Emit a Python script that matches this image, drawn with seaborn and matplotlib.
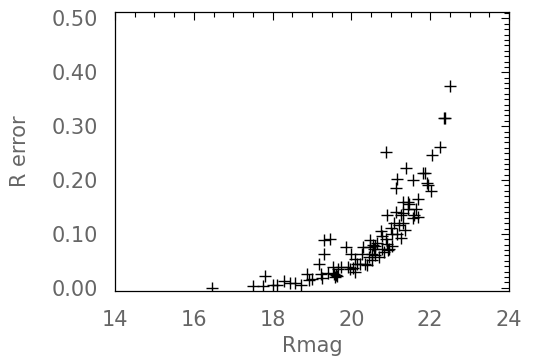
import matplotlib
matplotlib.use("Agg")
import matplotlib.pyplot as plt
import seaborn as sns
import pandas as pd
from matplotlib.ticker import MultipleLocator, FormatStrFormatter

rmag = [16.46, 17.49, 17.75, 17.80, 18.01, 18.12, 18.30, 18.45, 18.58, 18.71,
        18.88, 18.92, 19.01, 19.18, 19.22, 19.26, 19.30, 19.30, 19.46, 19.40,
        19.53, 19.57, 19.61, 19.66, 19.74, 19.87, 19.91, 19.96, 20.00, 20.04,
        20.09, 20.13, 20.22, 20.26, 20.30, 20.35, 20.39, 20.44, 20.48, 20.48,
        20.52, 20.52, 20.57, 20.61, 20.65, 20.70, 20.74, 20.78, 20.78, 20.83,
        20.87, 20.87, 20.91, 20.91, 20.96, 21.00, 21.04, 21.04, 21.08, 21.13,
        21.13, 21.17, 21.17, 21.22, 21.26, 21.26, 21.30, 21.30, 21.35, 21.39,
        21.43, 21.43, 21.47, 21.56, 21.56, 21.60, 21.65, 21.69, 21.69, 21.82,
        21.86, 21.91, 21.95, 22.01, 22.04, 22.24, 22.34, 22.38, 22.49,
        19.63, 19.58, 20.10, 20.61, 21.30, 20.93, 20.55]
rerr = [0.000, 0.004, 0.003, 0.022, 0.006, 0.006, 0.012, 0.009, 0.008, 0.006,
        0.026, 0.015, 0.016, 0.045, 0.026, 0.018, 0.089, 0.063, 0.090, 0.027,
        0.039, 0.026, 0.024, 0.034, 0.039, 0.075, 0.039, 0.034, 0.063, 0.036,
        0.054, 0.045, 0.045, 0.063, 0.075, 0.045, 0.042, 0.057, 0.089, 0.075,
        0.063, 0.051, 0.072, 0.078, 0.084, 0.057, 0.105, 0.096, 0.072, 0.066,
        0.253, 0.090, 0.135, 0.081, 0.072, 0.111, 0.099, 0.078, 0.120, 0.141,
        0.186, 0.202, 0.099, 0.117, 0.135, 0.093, 0.159, 0.120, 0.108, 0.222,
        0.159, 0.147, 0.156, 0.201, 0.129, 0.135, 0.147, 0.165, 0.132, 0.213,
        0.213, 0.195, 0.190, 0.180, 0.247, 0.261, 0.315, 0.315, 0.374,
        0.022, 0.020, 0.030, 0.060, 0.138, 0.070, 0.080]

df = pd.DataFrame({"Rmag": rmag, "Rerr": rerr})

sns.set_style("white")
plt.rcParams['font.family'] = ['DejaVu Sans']

fig = plt.figure(figsize=(5.35, 3.6), dpi=100)
ax = fig.add_axes([115/535, 1-290.5/360, (509-115)/535, (290.5-12)/360])
sns.scatterplot(data=df, x="Rmag", y="Rerr", marker="+", s=85, color="black",
                linewidth=1.0, ax=ax, legend=False)

ax.set_xlim(14, 24)
ax.set_ylim(-0.005, 0.512)
ax.xaxis.set_major_locator(MultipleLocator(2))
ax.xaxis.set_minor_locator(MultipleLocator(0.5))
ax.yaxis.set_major_locator(MultipleLocator(0.1))
ax.yaxis.set_minor_locator(MultipleLocator(0.01))
ax.yaxis.set_major_formatter(FormatStrFormatter("%.2f"))
ax.xaxis.set_major_formatter(FormatStrFormatter("%d"))

tc = "#666666"
ax.tick_params(which="both", direction="in", top=True, right=True,
               color="black", width=0.8, labelcolor=tc, labelsize=15)
ax.tick_params(which="major", length=6)
ax.tick_params(which="minor", length=3.5)
ax.tick_params(axis="x", which="major", pad=14)
ax.tick_params(axis="y", which="major", pad=12)
for s in ax.spines.values():
    s.set_color("black")
    s.set_linewidth(0.9)

ax.set_xlabel("Rmag", fontsize=15, color=tc, labelpad=4)
ax.set_ylabel("R error", fontsize=15, color=tc, labelpad=16)

fig.savefig("out.png", dpi=100)
